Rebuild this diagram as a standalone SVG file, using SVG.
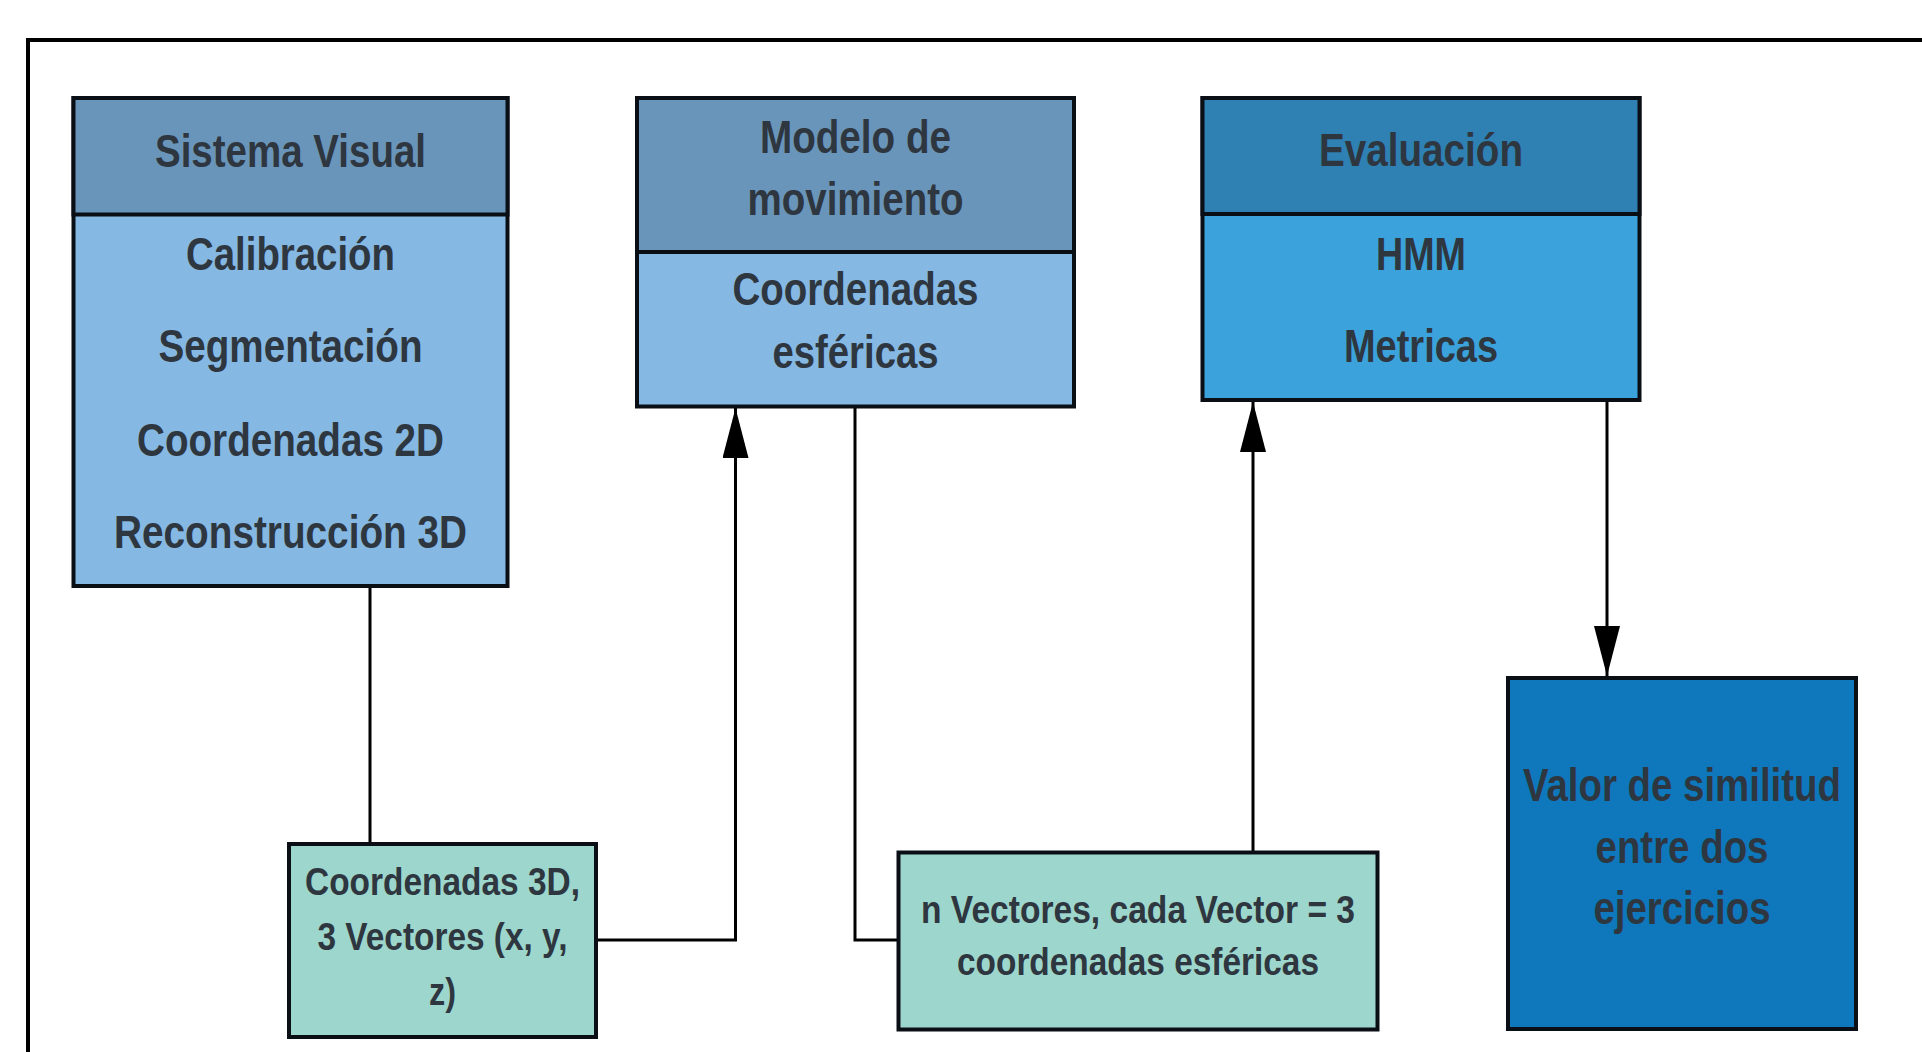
<svg xmlns="http://www.w3.org/2000/svg" width="1922" height="1052" viewBox="0 0 1922 1052">
<style>
.t{font-family:"Liberation Sans Narrow","Liberation Sans",Arial,sans-serif;font-weight:bold;fill:#2e3640;text-anchor:middle}
.b{font-size:47px}
.s{font-size:39px}
.box{stroke:#0a0f16;stroke-width:4}
.line{fill:none;stroke:#000;stroke-width:3}
.hdrA{fill:#6a95ba}
.bodyA{fill:#85b8e3}
.hdrB{fill:#2f80b3}
.bodyB{fill:#3ba2dc}
.teal{fill:#9dd6cc}
.dark{fill:#0f78bc}
</style>
<defs>
<marker id="arr" markerUnits="userSpaceOnUse" viewBox="0 0 50 26" refX="50" refY="13" markerWidth="50" markerHeight="26" orient="auto">
<path d="M0,0 L50,13 L0,26 z" fill="#000"/>
</marker>
</defs>
<rect width="1922" height="1052" fill="#fff"/>
<path d="M28,1052 V40 H1922" fill="none" stroke="#000" stroke-width="4"/>

<g id="connectors">
<path class="line" d="M370,586 V844"/>
<path class="line" d="M596,940 H735.5 V408" marker-end="url(#arr)"/>
<path class="line" d="M855,406 V940 H898"/>
<path class="line" d="M1253,852 V402" marker-end="url(#arr)"/>
<path class="line" d="M1607,400 V676" marker-end="url(#arr)"/>
</g>

<g id="sistema-visual">
<rect class="box bodyA" x="73.5" y="98" width="434" height="488"/>
<rect class="box hdrA" x="73.5" y="98" width="434" height="116.5"/>
<text class="t b" x="290.5" y="166.5" textLength="271" lengthAdjust="spacingAndGlyphs">Sistema Visual</text>
<text class="t b" x="290.5" y="270" textLength="209" lengthAdjust="spacingAndGlyphs">Calibración</text>
<text class="t b" x="290.5" y="362" textLength="264" lengthAdjust="spacingAndGlyphs">Segmentación</text>
<text class="t b" x="290.5" y="456" textLength="307" lengthAdjust="spacingAndGlyphs">Coordenadas 2D</text>
<text class="t b" x="290.5" y="548" textLength="353" lengthAdjust="spacingAndGlyphs">Reconstrucción 3D</text>
</g>

<g id="modelo-movimiento">
<rect class="box bodyA" x="637" y="98" width="437" height="308.5"/>
<rect class="box hdrA" x="637" y="98" width="437" height="154"/>
<text class="t b" x="855.5" y="153" textLength="191" lengthAdjust="spacingAndGlyphs">Modelo de</text>
<text class="t b" x="855.5" y="215" textLength="216" lengthAdjust="spacingAndGlyphs">movimiento</text>
<text class="t b" x="855.5" y="305" textLength="246" lengthAdjust="spacingAndGlyphs">Coordenadas</text>
<text class="t b" x="855.5" y="368" textLength="166" lengthAdjust="spacingAndGlyphs">esféricas</text>
</g>

<g id="evaluacion">
<rect class="box bodyB" x="1202.5" y="98" width="437" height="302"/>
<rect class="box hdrB" x="1202.5" y="98" width="437" height="116"/>
<text class="t b" x="1421" y="165.5" textLength="204" lengthAdjust="spacingAndGlyphs">Evaluación</text>
<text class="t b" x="1421" y="270" textLength="90" lengthAdjust="spacingAndGlyphs">HMM</text>
<text class="t b" x="1421" y="361.5" textLength="154" lengthAdjust="spacingAndGlyphs">Metricas</text>
</g>

<g id="valor-similitud">
<rect class="box dark" x="1508" y="678" width="348" height="351"/>
<text class="t b" x="1682" y="801" textLength="318" lengthAdjust="spacingAndGlyphs">Valor de similitud</text>
<text class="t b" x="1682" y="863" textLength="173" lengthAdjust="spacingAndGlyphs">entre dos</text>
<text class="t b" x="1682" y="924" textLength="177" lengthAdjust="spacingAndGlyphs">ejercicios</text>
</g>

<g id="coordenadas-3d">
<rect class="box teal" x="289" y="844" width="307" height="193"/>
<text class="t s" x="442.5" y="894.5" textLength="275" lengthAdjust="spacingAndGlyphs">Coordenadas 3D,</text>
<text class="t s" x="442.5" y="950" textLength="250" lengthAdjust="spacingAndGlyphs">3 Vectores (x, y,</text>
<text class="t s" x="442.5" y="1005" textLength="27" lengthAdjust="spacingAndGlyphs">z)</text>
</g>

<g id="n-vectores">
<rect class="box teal" x="898.5" y="852.5" width="479" height="177"/>
<text class="t s" x="1138" y="923" textLength="434" lengthAdjust="spacingAndGlyphs">n Vectores, cada Vector = 3</text>
<text class="t s" x="1138" y="975" textLength="362" lengthAdjust="spacingAndGlyphs">coordenadas esféricas</text>
</g>
</svg>
